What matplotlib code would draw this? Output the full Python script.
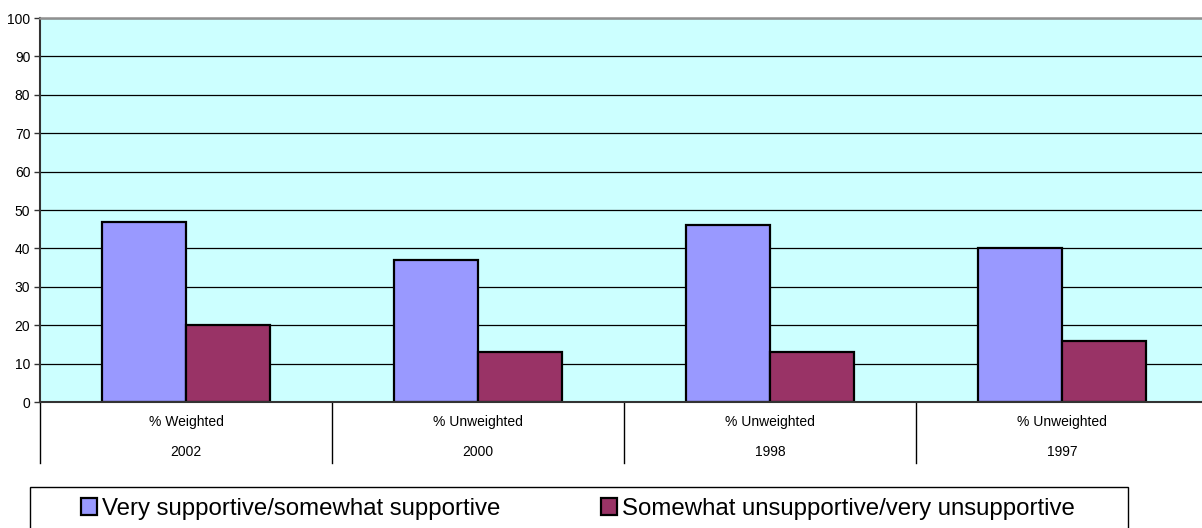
import matplotlib
matplotlib.use("Agg")
import matplotlib.pyplot as plt
from matplotlib.patches import Rectangle
from matplotlib.transforms import blended_transform_factory
import numpy as np

# Survey results by year
weights = ["% Weighted", "% Unweighted", "% Unweighted", "% Unweighted"]
years = ["2002", "2000", "1998", "1997"]
supportive = [47, 37, 46, 40]
unsupportive = [20, 13, 13, 16]
series_names = ["Very supportive/somewhat supportive",
                "Somewhat unsupportive/very unsupportive"]
yticks = list(range(0, 101, 10))

W, H = 1202, 528
fig = plt.figure(figsize=(W / 100, H / 100), dpi=100)
fig.patch.set_facecolor("white")

ax = fig.add_axes([40 / W, (H - 402) / H, 1168 / W, 384 / H])
ax.set_facecolor("#CCFFFF")

x = np.arange(len(years))
bw = 0.288
b1 = ax.bar(x - bw / 2, supportive, bw, color="#9999FF", edgecolor="black",
            linewidth=1.6, zorder=3, label=series_names[0])
b2 = ax.bar(x + bw / 2, unsupportive, bw, color="#993366", edgecolor="black",
            linewidth=1.6, zorder=3, label=series_names[1])

ax.set_xlim(-0.5, len(years) - 0.5)
ax.set_ylim(0, 100)
ax.set_yticks(yticks)
ax.set_yticklabels([str(t) for t in yticks], fontsize=10, family="Liberation Sans")
ax.yaxis.grid(True, color="black", linewidth=0.9, zorder=1)
ax.set_axisbelow(True)
ax.tick_params(axis="y", direction="out", length=4, width=1, pad=3, color="#333333")
ax.set_xticks([])
ax.spines["right"].set_visible(False)
ax.spines["top"].set_color("#909090")
ax.spines["top"].set_linewidth(1.8)
ax.spines["left"].set_color("#333333")
ax.spines["left"].set_linewidth(1.5)
ax.spines["bottom"].set_color("#333333")
ax.spines["bottom"].set_linewidth(1.5)
ax.spines["bottom"].set_zorder(4)

# Two-level category axis below the plot
tr = blended_transform_factory(ax.transData, ax.transAxes)
px = 1 / 384
for i, (w, yr) in enumerate(zip(weights, years)):
    ax.text(i, -20 * px, w, transform=tr, ha="center", va="center",
            fontsize=10, family="Liberation Sans", color="black")
    ax.text(i, -50 * px, yr, transform=tr, ha="center", va="center",
            fontsize=10, family="Liberation Sans", color="black")
for i in range(len(years) + 1):
    ax.plot([i - 0.5, i - 0.5], [0, -61 * px], transform=tr, color="black",
            linewidth=1, clip_on=False)

# Legend box
fig.patches.append(Rectangle((30 / W, -10 / H), 1098 / W, 51 / H,
                             transform=fig.transFigure, facecolor="white",
                             edgecolor="black", linewidth=1))
leg = fig.legend(handles=[b1, b2], labels=series_names, ncol=2,
                 loc="center left", bbox_to_anchor=(81 / W, (H - 509) / H),
                 frameon=False, prop={"family": "Liberation Sans", "size": 17.3},
                 handlelength=0.67, handleheight=0.67, handletextpad=0.21,
                 columnspacing=4.17, borderaxespad=0, borderpad=0)

fig.savefig("out.png", dpi=100)
